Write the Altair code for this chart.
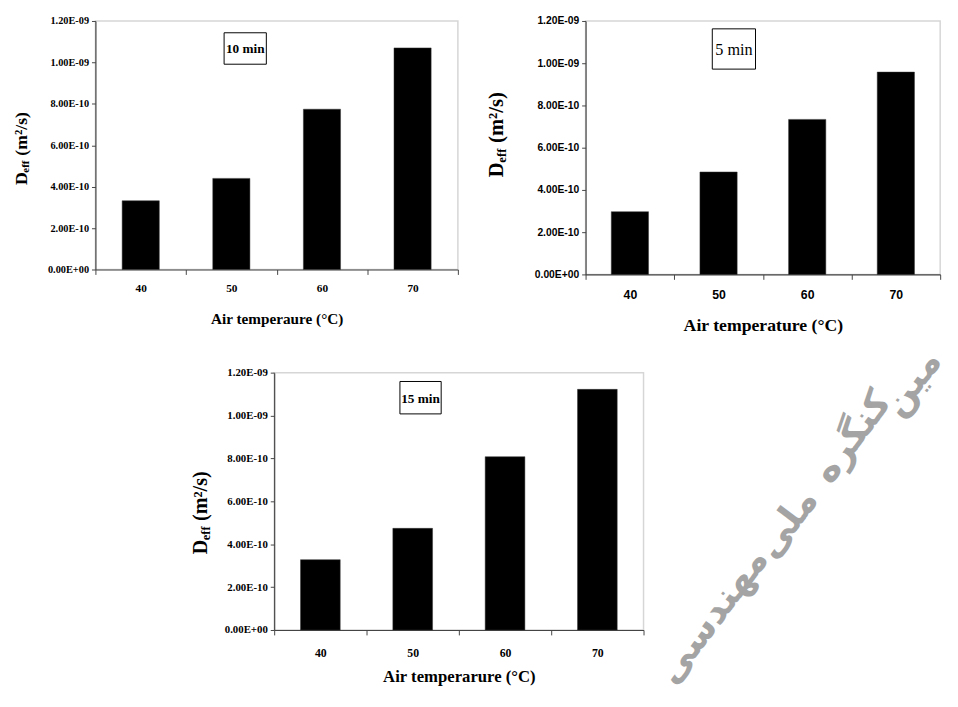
import altair as alt
import pandas as pd

# ---------------- data ----------------
temps = ["40", "50", "60", "70"]
deff_10min = [3.32e-10, 4.40e-10, 7.74e-10, 1.07e-9]
deff_5min = [2.97e-10, 4.85e-10, 7.34e-10, 9.58e-10]
deff_15min = [3.28e-10, 4.74e-10, 8.08e-10, 1.122e-9]
y_ticks = [0.0, 2e-10, 4e-10, 6e-10, 8e-10, 1.0e-9, 1.2e-9]
y_tick_labels = ["0.00E+00", "2.00E-10", "4.00E-10", "6.00E-10", "8.00E-10", "1.00E-09", "1.20E-09"]
x_titles = {"10": "Air temperaure (°C)", "5": "Air temperature (°C)", "15": "Air temperarure (°C)"}
box_labels = {"10": "10 min", "5": "5 min", "15": "15 min"}
watermark_words = ["مین", "کنگره", "ملی", "مهندسی"]

SERIF = "Liberation Serif"
SANS = "Liberation Sans"

label_expr = "[" + ",".join("'%s'" % s for s in y_tick_labels) + "][round(datum.value / 2e-10)]"


def pin(x1, y1):
    """invisible 1px rect used only to fix the layout bounds of a panel"""
    return alt.Chart(pd.DataFrame({"a": [0]})).mark_rect(opacity=0).encode(
        x=alt.value(x1), x2=alt.value(x1 + 1), y=alt.value(y1), y2=alt.value(y1 + 1))


def spacer(w, h):
    return alt.Chart(pd.DataFrame({"a": [0]})).mark_rect(opacity=0).encode(
        x=alt.value(0), x2=alt.value(w), y=alt.value(0), y2=alt.value(h)).properties(
        width=w, height=h, view=alt.ViewBackground(stroke="transparent", strokeWidth=0))


def panel(values, key, w, h, tick_font, ylab_size, xlab_size, xtitle_size, lab_pad, title_pad,
          ytitle, box, box_font_weight, box_size, bar_frac, pins=(), extra=()):
    df = pd.DataFrame({"temp": temps, "deff": values})
    bars = alt.Chart(df).mark_bar(color="black", stroke="#333333", strokeWidth=0.5,
                                  width=alt.RelativeBandSize(bar_frac)).encode(
        x=alt.X("temp:N", sort=temps,
                scale=alt.Scale(paddingInner=0, paddingOuter=0),
                axis=alt.Axis(title=x_titles[key], titleFont=SERIF, titleFontSize=xtitle_size,
                              titleFontWeight="bold", titleColor="black", titlePadding=title_pad,
                              labelFont=tick_font, labelFontSize=xlab_size, labelFontWeight="bold",
                              labelColor="black", labelAngle=0, labelPadding=lab_pad,
                              tickBand="extent", tickSize=5, tickColor="#444444",
                              domainColor="#444444", domainWidth=1.2)),
        y=alt.Y("deff:Q", scale=alt.Scale(domain=[0, 1.2e-9], nice=False),
                axis=alt.Axis(title=None, values=y_ticks, labelExpr=label_expr,
                              labelFont=tick_font, labelFontSize=ylab_size, labelFontWeight="bold",
                              labelColor="black", labelPadding=3, tickSize=4, tickColor="#444444",
                              domainColor="#444444", domainWidth=1.2, grid=False)),
    )
    # y-axis title pieces: D, subscript eff, (m²/s)
    S, bx, y0 = ytitle
    tdf = pd.DataFrame({"t": ["D", "eff", "(m²/s)"]})
    common = dict(angle=270, align="left", baseline="alphabetic", font=SERIF,
                  fontWeight="bold", color="black")
    t_d = alt.Chart(tdf.iloc[[0]]).mark_text(fontSize=S, **common).encode(
        text="t:N", x=alt.value(bx), y=alt.value(y0))
    t_e = alt.Chart(tdf.iloc[[1]]).mark_text(fontSize=S * 0.62, **common).encode(
        text="t:N", x=alt.value(bx + 0.12 * S), y=alt.value(y0 - 0.70 * S))
    t_m = alt.Chart(tdf.iloc[[2]]).mark_text(fontSize=S, **common).encode(
        text="t:N", x=alt.value(bx), y=alt.value(y0 - 1.66 * S))
    # annotation box
    x1, x2, y1, y2 = box
    bdf = pd.DataFrame({"t": [box_labels[key]]})
    rect = alt.Chart(bdf).mark_rect(fill="white", stroke="black", strokeWidth=1).encode(
        x=alt.value(x1), x2=alt.value(x2), y=alt.value(y1), y2=alt.value(y2))
    btxt = alt.Chart(bdf).mark_text(font=SERIF, fontWeight=box_font_weight, fontSize=box_size,
                                    color="black", baseline="middle", align="center").encode(
        text="t:N", x=alt.value((x1 + x2) / 2), y=alt.value((y1 + y2) / 2 + 1))
    layers = [bars, t_d, t_e, t_m, rect, btxt] + [pin(px, py) for px, py in pins] + list(extra)
    return alt.layer(*layers).properties(width=w, height=h)


# panel 10 min
p10 = panel(deff_10min, "10", 369, 253, SERIF, 10.5, 11.5, 15.5, 8, 18,
            (18, -70, 167), (131, 174, 12, 44), "bold", 13.5, 0.41,
            pins=[(-88, -6), (370, 318)])
# panel 5 min
p5 = panel(deff_5min, "5", 361, 258, SANS, 10.5, 12.5, 18, 10, 16,
           (21, -84, 159), (129, 173, 8, 49), "normal", 16.5, 0.42,
           pins=[(-115, -6)])

# watermark words (relative to the 15-min panel)
wm_pos = [(650, 11), (589, 66), (523, 154), (447, 248)]
wm_layers = []
for word, (wx, wy) in zip(watermark_words, wm_pos):
    wm_layers.append(alt.Chart(pd.DataFrame({"t": [word]})).mark_text(
        angle=307, align="center", baseline="middle", font="DejaVu Sans", fontWeight="bold",
        fontSize=38, color="#a4a4a4").encode(text="t:N", x=alt.value(wx), y=alt.value(wy)))

# panel 15 min
p15 = panel(deff_15min, "15", 376, 262, SERIF, 11, 12, 17, 13, 10,
            (20.5, -68, 185), (128, 170, 9, 42), "bold", 13.5, 0.43,
            pins=[(-90, -15)], extra=wm_layers)

left_col = alt.vconcat(p10, spacing=0)
top = alt.hconcat(left_col, p5, spacing=11)
bottom = alt.hconcat(spacer(91, 1), p15, spacing=0)
chart = alt.vconcat(top, bottom, spacing=6).properties(
    padding=0, background="white"
).configure_view(stroke="#d6d6d6", strokeWidth=1.5)

chart.save("out.html", embed_options={"renderer": "svg", "actions": False})
